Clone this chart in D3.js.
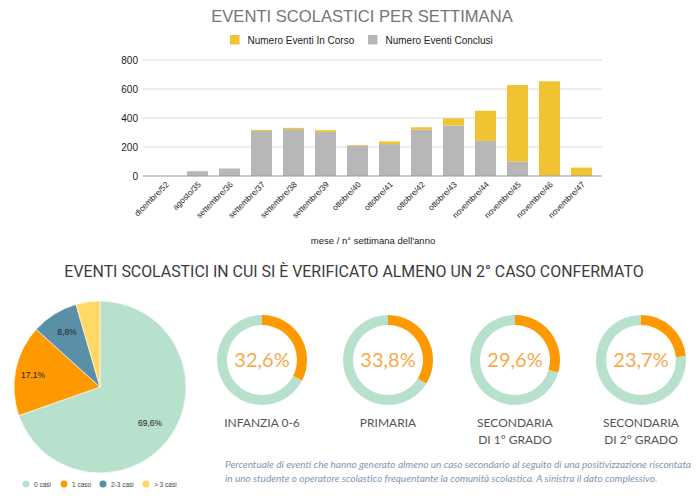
<!DOCTYPE html>
<html><head><meta charset="utf-8">
<script src="https://cdn.jsdelivr.net/npm/d3@7"></script>
<style>
body{margin:0;background:#fff;}
svg{display:block;}
</style></head>
<body>
<svg id="c" width="696" height="498"></svg>
<script>
const weeks = ["dicembre/52","agosto/35","settembre/36","settembre/37","settembre/38","settembre/39","ottobre/40","ottobre/41","ottobre/42","ottobre/43","novembre/44","novembre/45","novembre/46","novembre/47"];
const conclusi = [0,33,52,310,323,303,210,220,320,348,242,100,2,0];
const inCorso  = [0,0,0,8,9,13,4,18,16,50,208,528,651,58];
const yTicks = [0,200,400,600,800];
const seriesNames = ["Numero Eventi In Corso","Numero Eventi Conclusi"];

const pieLabels = ["0 casi","1 caso","2-3 casi","> 3 casi"];
const pieValues = [69.6,17.1,8.8,4.5];

const donutNames = [["INFANZIA 0-6"],["PRIMARIA"],["SECONDARIA","DI 1° GRADO"],["SECONDARIA","DI 2° GRADO"]];
const donutValues = [32.6,33.8,29.6,23.7];

const colYellow="#f1c232", colGray="#b7b7b7";
const pieColors=["#b7e1cd","#ff9900","#5b8fa8","#ffd966"];

const svg=d3.select("#c");

// ---- Bar chart ----
svg.append("text").attr("x",362).attr("y",22).attr("text-anchor","middle")
  .attr("font-family","Liberation Sans, Arial, sans-serif").attr("font-size",16.6).attr("fill","#757575")
  .text("EVENTI SCOLASTICI PER SETTIMANA");

// legend
const lg=svg.append("g").attr("font-family","Liberation Sans, Arial, sans-serif").attr("font-size",10);
[[230,colYellow,seriesNames[0]],[368,colGray,seriesNames[1]]].forEach(([x,c,t])=>{
  lg.append("rect").attr("x",x).attr("y",35).attr("width",9.5).attr("height",9.5).attr("fill",c);
  lg.append("text").attr("x",x+17.5).attr("y",43.5).attr("fill","#222").text(t);
});

const x=d3.scaleBand().domain(weeks).range([144,603]).paddingInner(0.344).paddingOuter(0.344);
const y=d3.scaleLinear().domain([0,800]).range([176,60]);

const grid=svg.append("g");
grid.selectAll("line").data(yTicks.slice(1)).join("line")
  .attr("x1",143).attr("x2",602).attr("y1",d=>y(d)).attr("y2",d=>y(d))
  .attr("stroke","#dcdcdc").attr("stroke-width",1);
const yAx=svg.append("g").attr("transform","translate(143,0)")
  .call(d3.axisLeft(y).tickValues(yTicks).tickSize(0).tickPadding(5));
yAx.select(".domain").remove();
yAx.selectAll("text").attr("font-family","Liberation Sans, Arial, sans-serif").attr("font-size",10).attr("fill","#222");

const bars=svg.append("g");
weeks.forEach((w,i)=>{
  if(conclusi[i]>0) bars.append("rect").attr("x",x(w)).attr("width",x.bandwidth())
    .attr("y",y(conclusi[i])).attr("height",y(0)-y(conclusi[i])).attr("fill",colGray);
  if(inCorso[i]>0) bars.append("rect").attr("x",x(w)).attr("width",x.bandwidth())
    .attr("y",y(conclusi[i]+inCorso[i])).attr("height",y(conclusi[i])-y(conclusi[i]+inCorso[i])).attr("fill",colYellow);
});
svg.append("line").attr("x1",143).attr("x2",602).attr("y1",y(0)).attr("y2",y(0)).attr("stroke","#999").attr("stroke-width",1.2);

const xAx=svg.append("g").attr("transform",`translate(0,${y(0)})`).call(d3.axisBottom(x).tickSize(0).tickPadding(0));
xAx.select(".domain").remove();
xAx.selectAll("text").attr("font-family","Liberation Sans, Arial, sans-serif").attr("font-size",8.2).attr("fill","#222")
  .attr("text-anchor","end").attr("dy",0).attr("transform","translate(4,9) rotate(-45)");

svg.append("text").attr("x",373).attr("y",244).attr("text-anchor","middle")
  .attr("font-family","Liberation Sans, Arial, sans-serif").attr("font-size",9.5).attr("fill","#222")
  .text("mese / n° settimana dell'anno");

// ---- Second section ----
svg.append("text").attr("x",354).attr("y",277).attr("text-anchor","middle")
  .attr("font-family","Roboto, sans-serif").attr("font-size",15.9).attr("fill","#3c3c3c")
  .text("EVENTI SCOLASTICI IN CUI SI È VERIFICATO ALMENO UN 2° CASO CONFERMATO");

// pie
const pie=d3.pie().sort(null).value(d=>d)(pieValues);
const arc=d3.arc().innerRadius(0).outerRadius(86);
const pg=svg.append("g").attr("transform","translate(100,387)");
pg.selectAll("path").data(pie).join("path").attr("d",arc).attr("fill",(d,i)=>pieColors[i]).attr("stroke","#fff").attr("stroke-width",0.6);
const fmt=v=>d3.format(".1f")(v).replace(".",",")+"%";
const labelPos=[[50,36],[-67,-12],[-33,-55]];
pg.selectAll("text.pl").data(pie.slice(0,3)).join("text").attr("class","pl")
  .attr("x",(d,i)=>labelPos[i][0]).attr("y",(d,i)=>labelPos[i][1]+3)
  .attr("text-anchor","middle").attr("font-family","Liberation Sans, Arial, sans-serif").attr("font-size",8.5).attr("fill","#222")
  .text(d=>fmt(d.data));

const plx=[26,64,103,146];
const pl=svg.append("g");
pieLabels.forEach((t,i)=>{
  pl.append("circle").attr("cx",plx[i]).attr("cy",484).attr("r",3.5).attr("fill",pieColors[i]);
  pl.append("text").attr("x",plx[i]+8).attr("y",486.5).attr("font-family","Liberation Sans, Arial, sans-serif")
    .attr("font-size",6.5).attr("fill","#444").text(t);
});

// donuts
const dcx=[262,388,515,641];
const darc=d3.arc().innerRadius(35).outerRadius(45);
donutValues.forEach((v,i)=>{
  const g=svg.append("g").attr("transform",`translate(${dcx[i]},360)`);
  const p=d3.pie().sort(null).value(d=>d)([v,100-v]);
  g.selectAll("path").data(p).join("path").attr("d",darc).attr("fill",(d,j)=>j===0?"#ff9900":"#b7e1cd");
  g.append("text").attr("y",7).attr("text-anchor","middle").attr("font-family","Lato, sans-serif")
    .attr("font-size",20).attr("fill","#f8a84a").text(fmt(v));
  donutNames[i].forEach((t,k)=>{
    svg.append("text").attr("x",dcx[i]).attr("y",427+k*17).attr("text-anchor","middle")
      .attr("font-family","Lato, sans-serif").attr("font-size",12).attr("fill","#555").text(t);
  });
});

// caption
const cap=svg.append("text").attr("font-family","Lato, sans-serif").attr("font-style","italic")
  .attr("font-size",10).attr("fill","#7d98b3");
cap.append("tspan").attr("x",225).attr("y",468).text("Percentuale di eventi che hanno generato almeno un caso secondario al seguito di una positivizzazione riscontata");
cap.append("tspan").attr("x",225).attr("y",482).text("in uno studente o operatore scolastico frequentante la comunità scolastica. A sinistra il dato complessivo.");
</script>
</body></html>
